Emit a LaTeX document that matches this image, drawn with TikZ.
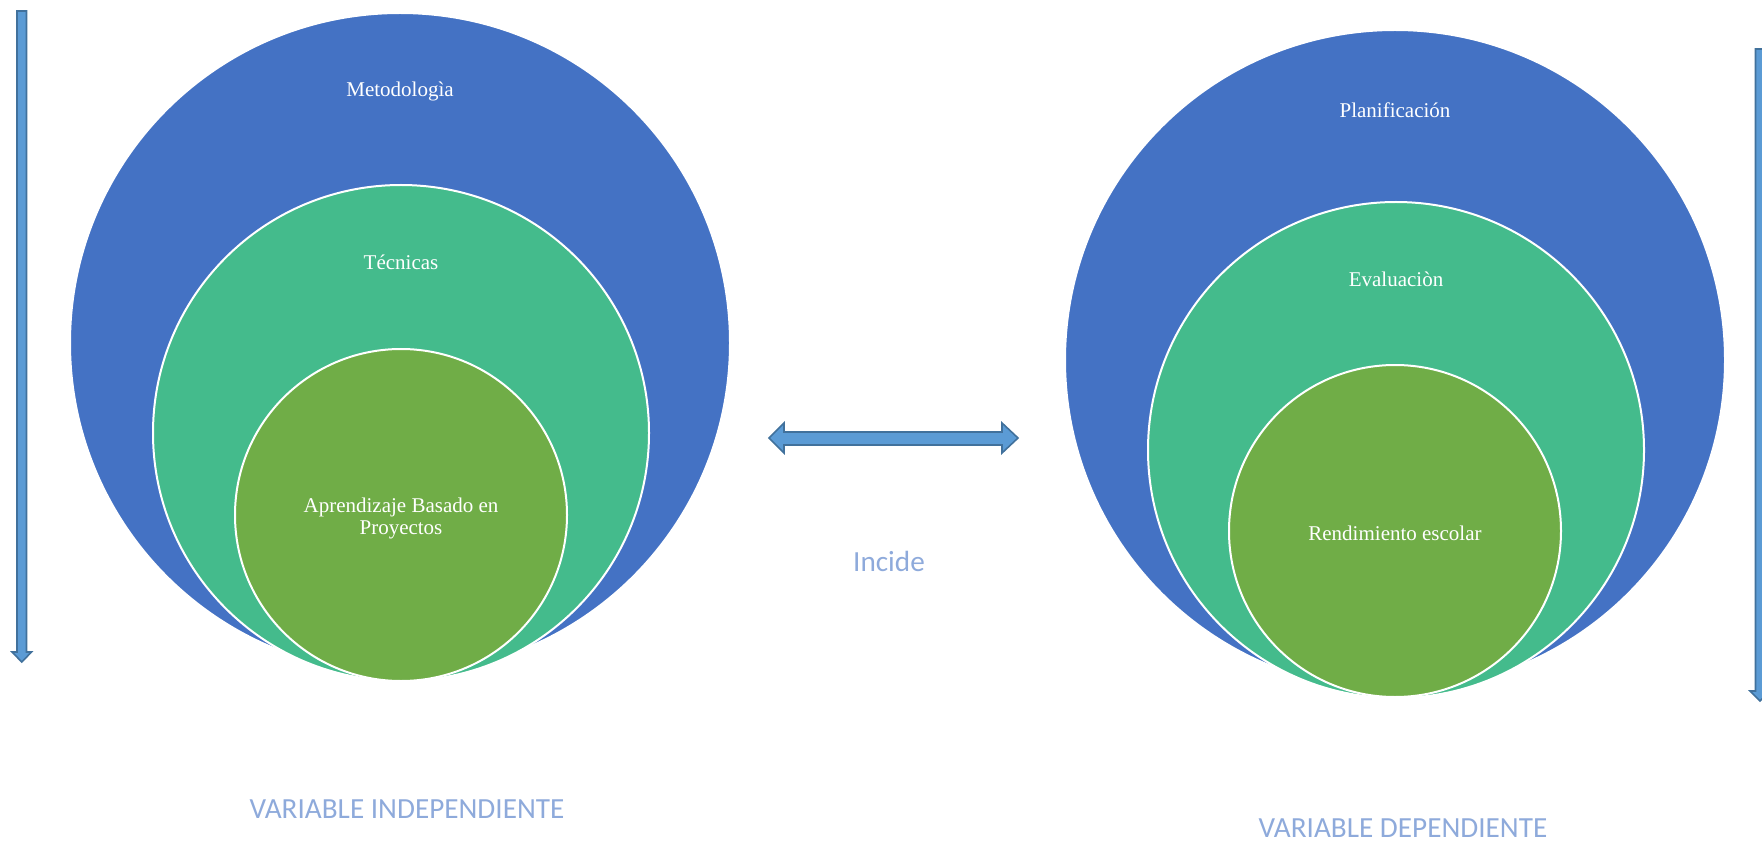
\documentclass[tikz,border=0pt]{standalone}
\usepackage{fontspec}
\setmainfont{Liberation Serif}
\newfontfamily\calibri{Carlito}
\definecolor{bigblue}{HTML}{4472C4}
\definecolor{midteal}{HTML}{44BB8C}
\definecolor{smallgreen}{HTML}{70AD47}
\definecolor{arrowfill}{HTML}{5B9BD5}
\definecolor{arrowline}{HTML}{41719C}
\definecolor{notecolor}{HTML}{8EAADB}
\tikzset{
  ring/.style={circle, inner sep=0pt, draw=white, line width=1pt},
  intext/.style={text=white, anchor=base, align=center, font=\fontsize{10.5}{11}\selectfont},
  outtext/.style={text=notecolor, anchor=base, font=\calibri\fontsize{14.6}{16}\selectfont},
  blockarrow/.style={fill=arrowfill, draw=arrowline, line width=0.8pt, line join=miter}
}
\begin{document}
\begin{tikzpicture}[x=0.5pt,y=-0.5pt]
    \path[use as bounding box] (0,0) rectangle (1762,845);

    % left side
    \node[ring, fill=bigblue, minimum size=330pt] (metodo) at (400,343) {};
    \node[ring, fill=midteal, minimum size=248pt] (tecnicas) at (401,433) {};
    \node[ring, fill=smallgreen, minimum size=166pt] (abp) at (401,515) {};
    \node[intext] (metodolabel) at (400,97) {Metodologìa};
    \node[intext] (tecnicaslabel) at (401,270) {Técnicas};
    \node[intext, anchor=base] (abplabel) at (401,534) {Aprendizaje Basado en\\Proyectos};

    % right side
    \node[ring, fill=bigblue, minimum size=330pt] (planif) at (1395,360) {};
    \node[ring, fill=midteal, minimum size=248pt] (evalua) at (1396,450) {};
    \node[ring, fill=smallgreen, minimum size=166pt] (rendim) at (1395,531) {};
    \node[intext] (planiflabel) at (1395,118) {Planificación};
    \node[intext] (evalualabel) at (1396,286) {Evaluaciòn};
    \node[intext] (rendimlabel) at (1395,540) {Rendimiento escolar};

    % arrows
    \draw[blockarrow] (17,11) -- (26.5,11) -- (26.5,652) -- (31.5,652) -- (21.8,662)
        -- (12,652) -- (17,652) -- cycle;
    \draw[blockarrow] (1755.5,49) -- (1765,49) -- (1765,691) -- (1770,691) -- (1760,701)
        -- (1750,691) -- (1755.5,691) -- cycle;
    \draw[blockarrow] (769,438) -- (784,423) -- (784,432) -- (1002,432) -- (1002,423)
        -- (1018,438) -- (1002,453) -- (1002,445) -- (784,445) -- (784,453) -- cycle;

    \node[outtext] (incide) at (889,571) {Incide};
    \node[outtext] (indep) at (407,818) {VARIABLE INDEPENDIENTE};
    \node[outtext] (dep) at (1403,837) {VARIABLE DEPENDIENTE};
\end{tikzpicture}
\end{document}
